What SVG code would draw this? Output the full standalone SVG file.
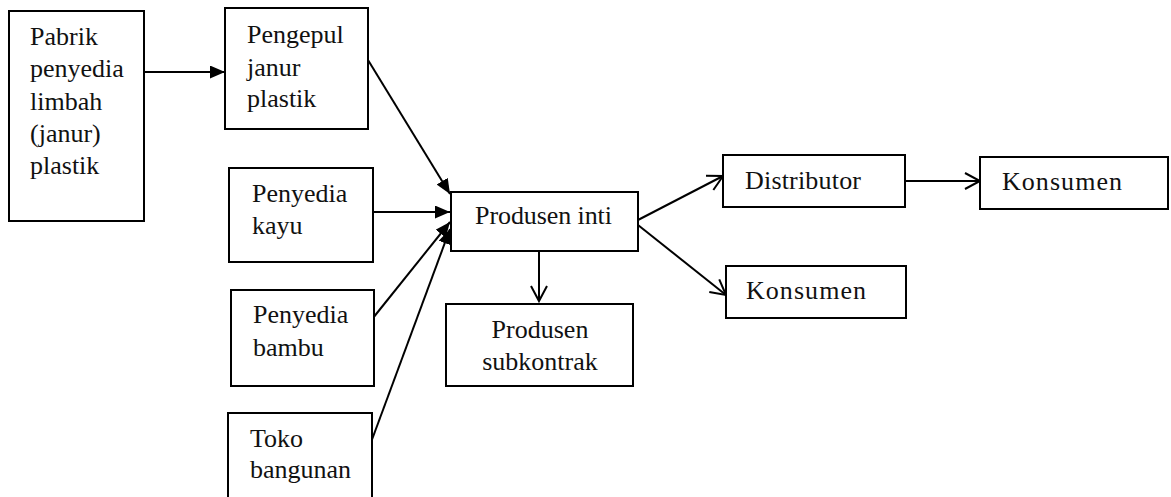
<svg xmlns="http://www.w3.org/2000/svg" width="1171" height="497" viewBox="0 0 1171 497">
<style>
.box{fill:#fff;stroke:#000;stroke-width:2}
.t{font-family:"Liberation Serif","DejaVu Serif",serif;font-size:26px;fill:#111}
.c{stroke:#000;stroke-width:2;fill:none}
.f{marker-end:url(#filled)}
.o{marker-end:url(#open)}
</style>
<defs>
<marker id="filled" markerUnits="userSpaceOnUse" markerWidth="16" markerHeight="14" refX="15" refY="6.5" orient="auto">
<path d="M0,0 L15,6.5 L0,13 z" fill="#000"/>
</marker>
<marker id="open" markerUnits="userSpaceOnUse" markerWidth="20" markerHeight="20" refX="16" refY="9" orient="auto">
<path d="M1,1 L16,9 L1,17" fill="none" stroke="#000" stroke-width="2"/>
</marker>
</defs>
<rect width="1171" height="497" fill="#fff"/>
<g id="connectors">
<line class="c f" x1="144" y1="72" x2="225" y2="72"/>
<line class="c f" x1="368" y1="60" x2="450" y2="194"/>
<line class="c f" x1="373" y1="212" x2="450" y2="212"/>
<line class="c f" x1="373" y1="318" x2="450" y2="222"/>
<line class="c f" x1="370" y1="445" x2="450" y2="229"/>
<line class="c o" x1="539" y1="251" x2="539" y2="301"/>
<line class="c o" x1="638" y1="220" x2="723" y2="176"/>
<line class="c o" x1="638" y1="225" x2="726" y2="295"/>
<line class="c o" x1="905" y1="181" x2="980" y2="181"/>
</g>
<g id="pabrik">
<rect class="box" x="9" y="11" width="135" height="210"/>
<text class="t" x="30" y="45">Pabrik</text>
<text class="t" x="30" y="77">penyedia</text>
<text class="t" x="30" y="110">limbah</text>
<text class="t" x="30" y="142">(janur)</text>
<text class="t" x="30" y="174">plastik</text>
</g>
<g id="pengepul">
<rect class="box" x="225" y="8" width="143" height="121"/>
<text class="t" x="247" y="43">Pengepul</text>
<text class="t" x="247" y="76">janur</text>
<text class="t" x="247" y="107">plastik</text>
</g>
<g id="kayu">
<rect class="box" x="229" y="168" width="144" height="94"/>
<text class="t" x="252" y="202">Penyedia</text>
<text class="t" x="252" y="234">kayu</text>
</g>
<g id="bambu">
<rect class="box" x="231" y="290" width="143" height="96"/>
<text class="t" x="253" y="323">Penyedia</text>
<text class="t" x="253" y="356">bambu</text>
</g>
<g id="toko">
<rect class="box" x="228" y="413" width="144" height="100"/>
<text class="t" x="250" y="447">Toko</text>
<text class="t" x="250" y="478">bangunan</text>
</g>
<g id="inti">
<rect class="box" x="451" y="192" width="187" height="59"/>
<text class="t" x="475" y="224" textLength="137">Produsen inti</text>
</g>
<g id="subkontrak">
<rect class="box" x="446" y="304" width="187" height="82"/>
<text class="t" x="540" y="338" text-anchor="middle">Produsen</text>
<text class="t" x="540" y="370" text-anchor="middle">subkontrak</text>
</g>
<g id="distributor">
<rect class="box" x="723" y="155" width="182" height="52"/>
<text class="t" x="745" y="189" textLength="116">Distributor</text>
</g>
<g id="konsumen1">
<rect class="box" x="980" y="157" width="188" height="52"/>
<text class="t" x="1002" y="190" textLength="120">Konsumen</text>
</g>
<g id="konsumen2">
<rect class="box" x="726" y="266" width="180" height="52"/>
<text class="t" x="746" y="299" textLength="120">Konsumen</text>
</g>
</svg>
